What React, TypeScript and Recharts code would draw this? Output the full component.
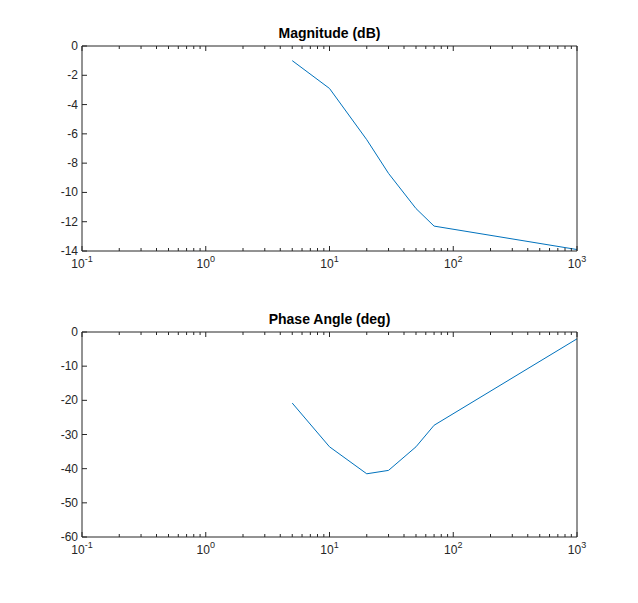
import { LineChart, Line, XAxis, YAxis } from "recharts";

const freq = [5, 10, 20, 30, 50, 70, 1000];
const magnitude = [-1, -2.9, -6.4, -8.7, -11.1, -12.3, -13.9];
const phase = [-20.8, -33.6, -41.5, -40.5, -33.6, -27.3, -2];

const majorX = [0.1, 1, 10, 100, 1000];
const minorX = [0.2, 0.3, 0.4, 0.5, 0.6, 0.7, 0.8, 0.9, 2, 3, 4, 5, 6, 7, 8, 9, 20, 30, 40, 50, 60, 70, 80, 90, 200, 300, 400, 500, 600, 700, 800, 900];
const allX = [...majorX, ...minorX];
const expLabels = ["-1", "0", "1", "2", "3"];
const magTicks = [0, -2, -4, -6, -8, -10, -12, -14];
const phaseTicks = [0, -10, -20, -30, -40, -50, -60];

const magData = freq.map((f, i) => ({ f, v: magnitude[i] }));
const phaseData = freq.map((f, i) => ({ f, v: phase[i] }));

const axisColor = "#262626";
const font = "'Liberation Sans', Arial, sans-serif";

const bottomTick = (p: any) => {
  const idx = majorX.indexOf(p.payload.value);
  const len = idx >= 0 ? 5 : 3;
  return (
    <g>
      <line x1={p.x} x2={p.x} y1={p.y} y2={p.y - len} stroke={axisColor} />
      {idx >= 0 && (
        <text x={p.x} y={p.y + 17} textAnchor="middle" fontSize={12} fill={axisColor} fontFamily={font}>
          10
          <tspan dy={-6} fontSize={9}>{expLabels[idx]}</tspan>
        </text>
      )}
    </g>
  );
};
const topTick = (p: any) => {
  const len = majorX.includes(p.payload.value) ? 5 : 3;
  return <line x1={p.x} x2={p.x} y1={p.y} y2={p.y + len} stroke={axisColor} />;
};
const leftTick = (p: any) => (
  <g>
    <line x1={p.x} x2={p.x + 5} y1={p.y} y2={p.y} stroke={axisColor} />
    <text x={p.x - 4} y={p.y + 4} textAnchor="end" fontSize={12} fill={axisColor} fontFamily={font}>
      {p.payload.value}
    </text>
  </g>
);
const rightTick = (p: any) => <line x1={p.x} x2={p.x - 5} y1={p.y} y2={p.y} stroke={axisColor} />;

function Panel({ data, ticks, domain, top }: { data: any[]; ticks: number[]; domain: [number, number]; top: number }) {
  return (
    <div style={{ position: "absolute", left: 0, top }}>
      <LineChart width={638} height={295} data={data} margin={{ top: 45, left: 42, right: 60, bottom: 24 }}>
        <XAxis xAxisId="b" dataKey="f" type="number" scale="log" domain={[0.1, 1000]} ticks={allX} allowDataOverflow
          height={20} tickSize={0} tickMargin={0} tickLine={false} stroke={axisColor} tick={bottomTick} interval={0} />
        <XAxis xAxisId="t" orientation="top" dataKey="f" type="number" scale="log" domain={[0.1, 1000]} ticks={allX} allowDataOverflow
          height={1} tickSize={0} tickMargin={0} tickLine={false} stroke={axisColor} tick={topTick} interval={0} />
        <YAxis yAxisId="l" domain={domain} ticks={ticks} width={40} tickSize={0} tickMargin={0} tickLine={false}
          stroke={axisColor} tick={leftTick} interval={0} />
        <YAxis yAxisId="r" orientation="right" domain={domain} ticks={ticks} width={1} tickSize={0} tickMargin={0}
          tickLine={false} stroke={axisColor} tick={rightTick} interval={0} />
        <Line xAxisId="b" yAxisId="l" dataKey="v" stroke="#0072BD" strokeWidth={1} dot={false} isAnimationActive={false} />
      </LineChart>
    </div>
  );
}

const titleStyle: any = {
  position: "absolute", width: 495, left: 82, textAlign: "center",
  fontFamily: font, fontWeight: "bold", fontSize: 14, color: "#000",
};

export default function App() {
  return (
    <div style={{ position: "absolute", left: 0, top: 0, width: 638, height: 603, background: "#fff" }}>
      <Panel data={magData} ticks={magTicks} domain={[-14, 0]} top={0} />
      <Panel data={phaseData} ticks={phaseTicks} domain={[-60, 0]} top={286} />
      <div style={{ ...titleStyle, top: 25 }}>Magnitude (dB)</div>
      <div style={{ ...titleStyle, top: 311 }}>Phase Angle (deg)</div>
    </div>
  );
}
